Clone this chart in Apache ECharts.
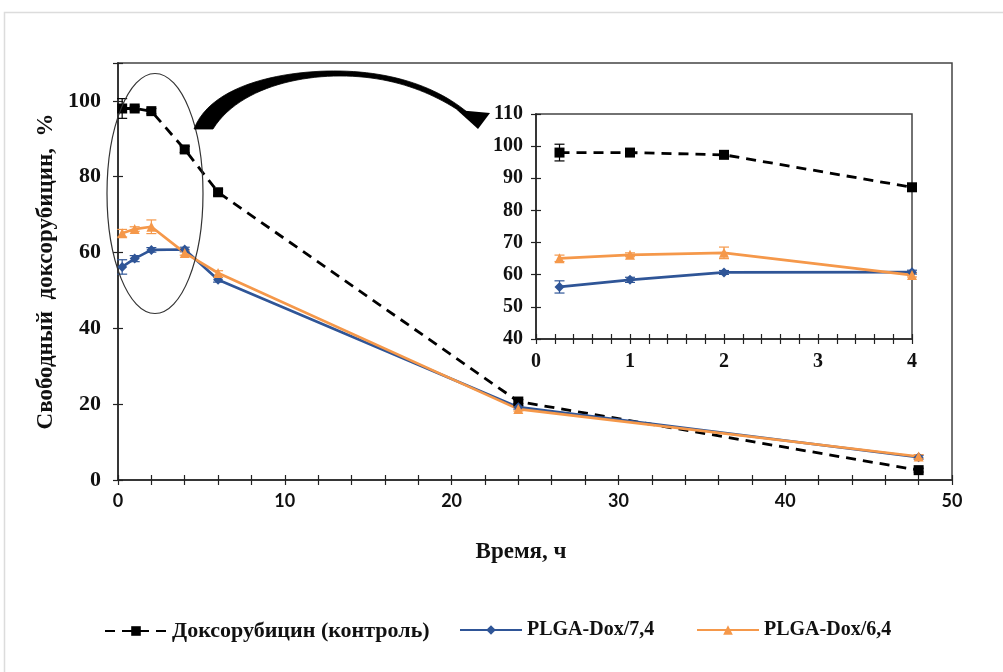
<!DOCTYPE html>
<html>
<head>
<meta charset="utf-8">
<script src="https://cdn.jsdelivr.net/npm/echarts@6/dist/echarts.min.js"></script>
<style>
  html, body { margin: 0; padding: 0; background: #fff; }
  #chart { width: 1003px; height: 672px; }
</style>
</head>
<body>
<div id="chart"></div>
<script>
// Release of free doxorubicin over time (hours), % of total
const times = [0.25, 1, 2, 4, 6, 24, 48];
const doxControl = [98.0, 98.0, 97.3, 87.2, 75.9, 20.7, 2.6];
const doxControlErr = [2.6, 0.6, 0.7, 0.8, 0.8, 0.5, 0.5];
const plga74 = [56.2, 58.4, 60.7, 60.8, 52.8, 19.2, 6.0];
const plga74Err = [1.9, 0.8, 0.6, 0.6, 0.6, 0.5, 0.5];
const plga64 = [65.1, 66.2, 66.8, 59.9, 54.6, 18.7, 6.2];
const plga64Err = [1.0, 0.6, 1.8, 0.6, 0.6, 0.5, 0.5];
const insetMaxTime = 4;

const names = ['Доксорубицин (контроль)', 'PLGA-Dox/7,4', 'PLGA-Dox/6,4'];
const colors = ['#000000', '#2f5597', '#f5984a'];

const serif = '"Liberation Serif", "Times New Roman", serif';
const sans = 'Lato, "Open Sans", sans-serif';

function pairs(vals, limit) {
  const out = [];
  times.forEach((t, i) => { if (limit === undefined || t <= limit) out.push([t, vals[i]]); });
  return out;
}
function errRows(vals, errs, limit) {
  const out = [];
  times.forEach((t, i) => { if (limit === undefined || t <= limit) out.push([t, vals[i] - errs[i], vals[i] + errs[i]]); });
  return out;
}
function errorSeries(name, vals, errs, color, axisIdx, limit) {
  return {
    name: name + ' err', type: 'custom', xAxisIndex: axisIdx, yAxisIndex: axisIdx, z: 3,
    data: errRows(vals, errs, limit),
    renderItem: function (params, api) {
      const lo = api.coord([api.value(0), api.value(1)]);
      const hi = api.coord([api.value(0), api.value(2)]);
      const hw = 5;
      const st = { stroke: color, lineWidth: 1.2 };
      return { type: 'group', children: [
        { type: 'line', shape: { x1: lo[0], y1: lo[1], x2: hi[0], y2: hi[1] }, style: st },
        { type: 'line', shape: { x1: lo[0] - hw, y1: lo[1], x2: lo[0] + hw, y2: lo[1] }, style: st },
        { type: 'line', shape: { x1: hi[0] - hw, y1: hi[1], x2: hi[0] + hw, y2: hi[1] }, style: st }
      ]};
    }
  };
}

// cubic bezier sampling for the curved arrow outline
function cubic(p0, p1, p2, p3, n) {
  const pts = [];
  for (let i = 0; i <= n; i++) {
    const t = i / n, u = 1 - t;
    pts.push([
      u*u*u*p0[0] + 3*u*u*t*p1[0] + 3*u*t*t*p2[0] + t*t*t*p3[0],
      u*u*u*p0[1] + 3*u*u*t*p1[1] + 3*u*t*t*p2[1] + t*t*t*p3[1]
    ]);
  }
  return pts;
}
const arrowOuter = cubic([194, 129], [212, 82], [290, 70], [340, 71], 24)
  .concat(cubic([340, 71], [395, 72], [438, 88], [467, 112], 24).slice(1));
const arrowInner = cubic([464, 114], [432, 92], [392, 76], [340, 76], 24)
  .concat(cubic([340, 76], [290, 76], [236, 92], [213, 129], 24).slice(1));
const arrowBody = arrowOuter.concat(arrowInner);

const lineDefs = [
  { vals: doxControl, errs: doxControlErr, symbol: 'rect', size: 10, type: [10, 7], width: 2.8 },
  { vals: plga74, errs: plga74Err, symbol: 'diamond', size: 10, type: 'solid', width: 2.7 },
  { vals: plga64, errs: plga64Err, symbol: 'triangle', size: 10, type: 'solid', width: 2.7 }
];

const series = [];
[0, 2].forEach(function (axisIdx) {
  const limit = axisIdx === 2 ? insetMaxTime : undefined;
  lineDefs.forEach(function (d, k) {
    series.push(errorSeries(names[k], d.vals, d.errs, colors[k], axisIdx, limit));
  });
  lineDefs.forEach(function (d, k) {
    series.push({
      name: names[k], type: 'line', xAxisIndex: axisIdx, yAxisIndex: axisIdx, z: 4,
      data: pairs(d.vals, limit),
      symbol: d.symbol, symbolSize: d.size,
      itemStyle: { color: colors[k] },
      lineStyle: { color: colors[k], width: d.width, type: d.type },
      emphasis: { disabled: true },
      animation: false
    });
  });
});

const tickStyle = { color: '#222', width: 1.2 };
const axisLineStyle = { lineStyle: { color: '#333', width: 1.5 } };

function xAxisDef(grid, min, max, interval, withLabels, inside, opts) {
  return Object.assign({
    type: 'value', gridIndex: grid, min: min, max: max, interval: interval,
    axisLine: Object.assign({ show: true, onZero: false }, axisLineStyle),
    axisTick: { show: true, inside: inside, length: 5, lineStyle: tickStyle },
    minorTick: { show: true, splitNumber: 5, length: 5, lineStyle: tickStyle },
    splitLine: { show: false },
    axisLabel: { show: withLabels }
  }, opts || {});
}
function yAxisDef(grid, min, max, interval, withLabels, inside, opts) {
  return Object.assign({
    type: 'value', gridIndex: grid, min: min, max: max, interval: interval,
    axisLine: Object.assign({ show: true, onZero: false }, axisLineStyle),
    axisTick: { show: true, inside: inside, length: 5, lineStyle: tickStyle },
    splitLine: { show: false },
    axisLabel: { show: withLabels }
  }, opts || {});
}

function legendAt(name, left, size) {
  return {
    data: [name], left: left, top: 615,
    itemWidth: 62, itemHeight: 12, itemGap: 0,
    selectedMode: false,
    textStyle: { fontFamily: serif, fontWeight: 'bold', fontSize: size, color: '#111' }
  };
}

const option = {
  backgroundColor: '#ffffff',
  animation: false,
  grid: [
    { left: 118, top: 63, right: 51, bottom: 192, show: true, borderColor: '#444', borderWidth: 1.5, backgroundColor: 'transparent' },
    { left: 118, top: 63, right: 51, bottom: 192, show: false },
    { left: 536, top: 114, right: 91, bottom: 333, show: true, borderColor: '#444', borderWidth: 1.5, backgroundColor: '#fff' },
    { left: 536, top: 114, right: 91, bottom: 333, show: false }
  ],
  xAxis: [
    xAxisDef(0, 0, 50, 10, true, false, {
      name: 'Время, ч', nameLocation: 'middle', nameGap: 61,
      nameTextStyle: { fontFamily: serif, fontWeight: 'bold', fontSize: 23, color: '#111', padding: [0, 28, 0, 0] },
      axisLabel: { show: true, margin: 12, fontFamily: sans, fontWeight: 'bold', fontSize: 18, color: '#111' }
    }),
    xAxisDef(1, 0, 50, 10, false, true),
    xAxisDef(2, 0, 4, 1, true, false, {
      axisLabel: { show: true, margin: 13, fontFamily: serif, fontWeight: 'bold', fontSize: 20, color: '#111' }
    }),
    xAxisDef(3, 0, 4, 1, false, true)
  ],
  yAxis: [
    yAxisDef(0, 0, 110, 20, true, false, {
      name: 'Свободный  доксорубицин,  %', nameLocation: 'middle', nameGap: 56, nameRotate: 90,
      nameTextStyle: { fontFamily: serif, fontWeight: 'bold', fontSize: 23, color: '#111' },
      axisLabel: { show: true, margin: 17, fontFamily: serif, fontWeight: 'bold', fontSize: 22, color: '#111',
        formatter: function (v) { return v > 100 ? '' : String(v); } }
    }),
    yAxisDef(1, 0, 110, 20, false, true),
    yAxisDef(2, 40, 110, 10, true, false, {
      axisLabel: { show: true, margin: 13, fontFamily: serif, fontWeight: 'bold', fontSize: 20, color: '#111' }
    }),
    yAxisDef(3, 40, 110, 10, false, true)
  ],
  legend: [
    legendAt(names[0], 99, 22),
    legendAt(names[1], 454, 20),
    legendAt(names[2], 691, 20)
  ],
  graphic: [
    { type: 'rect', shape: { x: 4.5, y: 12.5, width: 1100, height: 800 }, style: { fill: 'none', stroke: '#dcdcdc', lineWidth: 1.5 }, z: 0 },
    { type: 'ellipse', shape: { cx: 155, cy: 193.5, rx: 48, ry: 120 }, style: { fill: 'none', stroke: '#333', lineWidth: 1.2 }, z: 10 },
    { type: 'polygon', z: 10, shape: { points: arrowBody }, style: { fill: '#000', stroke: '#000', lineWidth: 0.8 } },
    { type: 'polygon', z: 10, shape: { points: [[457, 110], [490, 113], [478, 129]] }, style: { fill: '#000' } }
  ],
  series: series
};

const chart = echarts.init(document.getElementById('chart'), null, { renderer: 'canvas' });
chart.setOption(option);
</script>
</body>
</html>
